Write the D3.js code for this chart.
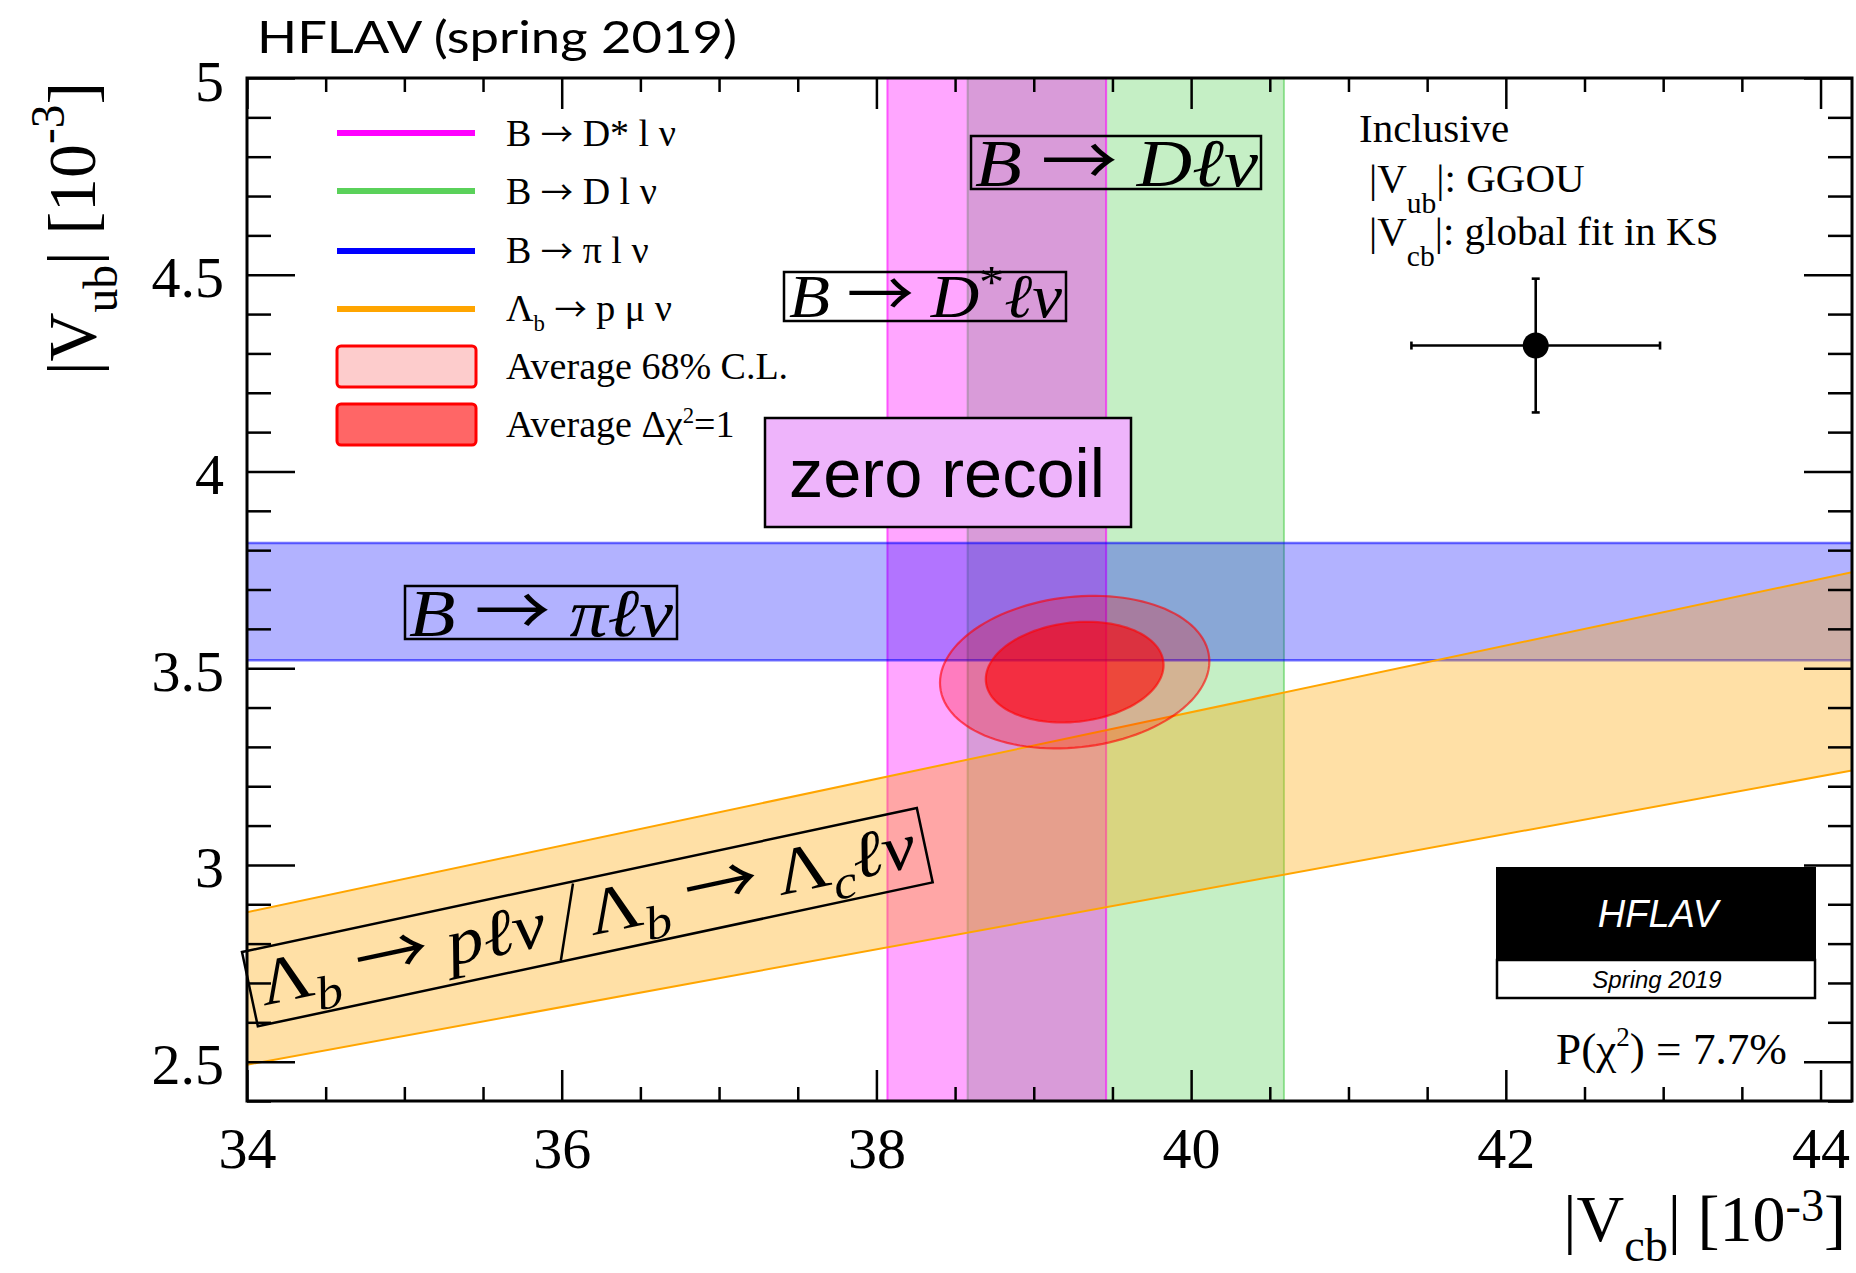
<!DOCTYPE html>
<html><head><meta charset="utf-8">
<script src="https://cdn.jsdelivr.net/npm/d3@7"></script>
<style>
body{margin:0;background:#fff}
svg{display:block}
text{white-space:pre}
</style>
</head><body>
<svg id="chart" width="1856" height="1273"></svg>
<script>
// ---------------- data ----------------
const xDomain = [34, 44.2];
const yDomain = [2.4, 5.0];
const xMajorTicks = [34, 36, 38, 40, 42, 44];
const xTickLabels = ["34", "36", "38", "40", "42", "44"];
const yMajorTicks = [2.5, 3, 3.5, 4, 4.5, 5];
const yTickLabels = ["2.5", "3", "3.5", "4", "4.5", "5"];

// exclusive |Vcb| bands (drawn in this order)
const vcbBandNames = ["B → D l ν", "B → D* l ν"];
const vcbBandLo = [38.58, 38.07];
const vcbBandHi = [40.59, 39.46];
const vcbBandColors = ["#5ad15a", "#ff00ff"];

// exclusive |Vub| band
const vubBandNames = ["B → π l ν"];
const vubBandLo = [3.52];
const vubBandHi = [3.818];
const vubBandColors = ["#0000ff"];

// |Vub|/|Vcb| ratio band from Lambda_b
const ratioBandNames = ["Λb → p μ ν"];
const ratioLo = [0.0733];
const ratioHi = [0.0847];
const ratioColors = ["#ffa500"];

// average fit: centre, sigmas, correlation; contour levels (68% CL, Δχ²=1)
const avgCenter = [39.26, 3.49];
const avgSigma = [0.565, 0.128];
const avgRho = [0.14];
const contourNames = ["Average 68% C.L.", "Average Δχ²=1"];
const contourK = [1.515, 1.0];

// inclusive point
const inclX = [42.19];
const inclXErr = [0.79];
const inclY = [4.32];
const inclYErrUp = [0.17];
const inclYErrDn = [0.17];

// ---------------- layout ----------------
const svg = d3.select("#chart");
const M = {left: 247, right: 1852, top: 78, bottom: 1101};
const x = d3.scaleLinear().domain(xDomain).range([M.left, M.right]);
const y = d3.scaleLinear().domain(yDomain).range([M.bottom, M.top]);
const SERIF = "'Liberation Serif','Times New Roman',serif";
const SANS = "'Liberation Sans',Arial,sans-serif";
const ARROW = "'Noto Sans CJK JP','DejaVu Sans',sans-serif";

svg.append("defs").append("clipPath").attr("id", "plotclip").append("rect")
  .attr("x", M.left).attr("y", M.top)
  .attr("width", M.right - M.left).attr("height", M.bottom - M.top);
const plot = svg.append("g").attr("clip-path", "url(#plotclip)");

// rich text helper
function rich(parent, parts, F, family) {
  const t = parent.append("text").attr("font-size", F).attr("font-family", family || SERIF).attr("fill", "#000");
  let shift = 0;
  parts.forEach(p => {
    const ts = t.append("tspan").text(p.t);
    const target = p.sub ? F * (p.drop || 0.25) : p.sup ? -F * (p.rise || 0.42) : 0;
    if (target - shift !== 0) ts.attr("dy", target - shift);
    shift = target;
    if (p.sub || p.sup) ts.attr("font-size", F * (p.scale || 0.7));
    if (p.arrow) ts.attr("font-family", ARROW).attr("font-size", F * (p.scale || 0.85));
    if (p.i) ts.attr("font-style", "italic");
  });
  return t;
}

// ---------------- vertical |Vcb| bands ----------------
const vcbBands = vcbBandNames.map((n, i) => ({name: n, lo: vcbBandLo[i], hi: vcbBandHi[i], color: vcbBandColors[i]}));
vcbBands.forEach(b => {
  plot.append("rect")
    .attr("x", x(b.lo)).attr("width", x(b.hi) - x(b.lo))
    .attr("y", y(yDomain[1])).attr("height", y(yDomain[0]) - y(yDomain[1]))
    .attr("fill", b.color).attr("fill-opacity", 0.35);
  [b.lo, b.hi].forEach(v => plot.append("line")
    .attr("x1", x(v)).attr("x2", x(v)).attr("y1", y(yDomain[0])).attr("y2", y(yDomain[1]))
    .attr("stroke", b.color).attr("stroke-opacity", 0.6).attr("stroke-width", 2));
});

// ---------------- horizontal |Vub| band ----------------
vubBandNames.forEach((n, i) => {
  plot.append("rect")
    .attr("x", x(xDomain[0])).attr("width", x(xDomain[1]) - x(xDomain[0]))
    .attr("y", y(vubBandHi[i])).attr("height", y(vubBandLo[i]) - y(vubBandHi[i]))
    .attr("fill", vubBandColors[i]).attr("fill-opacity", 0.3);
  [vubBandLo[i], vubBandHi[i]].forEach(v => plot.append("line")
    .attr("x1", x(xDomain[0])).attr("x2", x(xDomain[1])).attr("y1", y(v)).attr("y2", y(v))
    .attr("stroke", vubBandColors[i]).attr("stroke-opacity", 0.55).attr("stroke-width", 2.5));
});

// ---------------- ratio band (|Vub| = r |Vcb|) ----------------
ratioBandNames.forEach((n, i) => {
  const pts = [[xDomain[0], ratioHi[i] * xDomain[0]], [xDomain[1], ratioHi[i] * xDomain[1]],
               [xDomain[1], ratioLo[i] * xDomain[1]], [xDomain[0], ratioLo[i] * xDomain[0]]];
  plot.append("path")
    .attr("d", d3.line().x(d => x(d[0])).y(d => y(d[1])).curve(d3.curveLinearClosed)(pts))
    .attr("fill", ratioColors[i]).attr("fill-opacity", 0.35).attr("stroke", "none");
  [ratioLo[i], ratioHi[i]].forEach(r => plot.append("line")
    .attr("x1", x(xDomain[0])).attr("y1", y(r * xDomain[0]))
    .attr("x2", x(xDomain[1])).attr("y2", y(r * xDomain[1]))
    .attr("stroke", ratioColors[i]).attr("stroke-width", 2));
});

// ---------------- average contours ----------------
function contour(k) {
  const rho = avgRho[0];
  return d3.range(0, 360, 3).map(deg => {
    const t = deg * Math.PI / 180;
    return [avgCenter[0] + k * avgSigma[0] * Math.cos(t),
            avgCenter[1] + k * avgSigma[1] * (rho * Math.cos(t) + Math.sqrt(1 - rho * rho) * Math.sin(t))];
  });
}
const contourFill = [0.25, 0.6];
contourK.forEach((k, i) => {
  plot.append("path")
    .attr("d", d3.line().x(d => x(d[0])).y(d => y(d[1])).curve(d3.curveLinearClosed)(contour(k)))
    .attr("fill", "#ff0000").attr("fill-opacity", contourFill[i])
    .attr("stroke", "#ff0000").attr("stroke-opacity", 0.6).attr("stroke-width", 2.2);
});

// ---------------- legend ----------------
const leg = svg.append("g");
const AR = {t: "→", arrow: true, scale: 0.85};
const legLineItems = [
  {parts: [{t: "B "}, AR, {t: " D* l ν"}], color: "#ff00ff", yl: 133, yt: 146},
  {parts: [{t: "B "}, AR, {t: " D l ν"}], color: "#5ad15a", yl: 191, yt: 204},
  {parts: [{t: "B "}, AR, {t: " π l ν"}], color: "#0000ff", yl: 251, yt: 263},
  {parts: [{t: "Λ"}, {t: "b", sub: true, drop: 0.25, scale: 0.6}, {t: " "}, AR, {t: " p μ ν"}], color: "#ffa500", yl: 309, yt: 321}
];
legLineItems.forEach(it => {
  leg.append("line").attr("x1", 337).attr("x2", 475).attr("y1", it.yl).attr("y2", it.yl)
    .attr("stroke", it.color).attr("stroke-width", 6);
  rich(leg, it.parts, 38).attr("x", 506).attr("y", it.yt);
});
const legBoxItems = [
  {parts: [{t: contourNames[0]}], fill: "#fdcccc", y0: 346, yt: 379},
  {parts: [{t: "Average Δχ"}, {t: "2", sup: true, rise: 0.38, scale: 0.6}, {t: "=1"}], fill: "#ff6666", y0: 404, yt: 437}
];
legBoxItems.forEach(it => {
  leg.append("rect").attr("x", 337).attr("y", it.y0).attr("width", 139).attr("height", 41)
    .attr("rx", 4).attr("fill", it.fill).attr("stroke", "#ff0000").attr("stroke-width", 3);
  rich(leg, it.parts, 38).attr("x", 506).attr("y", it.yt);
});

// ---------------- inclusive point ----------------
const incl = svg.append("g");
const ix = x(inclX[0]), iy = y(inclY[0]);
const xl = x(inclX[0] - inclXErr[0]), xr = x(inclX[0] + inclXErr[0]);
const yt = y(inclY[0] + inclYErrUp[0]), yb = y(inclY[0] - inclYErrDn[0]);
[[xl, iy, xr, iy], [ix, yt, ix, yb], [xl, iy - 4, xl, iy + 4], [xr, iy - 4, xr, iy + 4],
 [ix - 4, yt, ix + 4, yt], [ix - 4, yb, ix + 4, yb]].forEach(s =>
  incl.append("line").attr("x1", s[0]).attr("y1", s[1]).attr("x2", s[2]).attr("y2", s[3])
    .attr("stroke", "#000").attr("stroke-width", 2.6));
incl.append("circle").attr("cx", ix).attr("cy", iy).attr("r", 13).attr("fill", "#000");

rich(incl, [{t: "Inclusive"}], 41).attr("x", 1359).attr("y", 142);
rich(incl, [{t: "|V"}, {t: "ub", sub: true, drop: 0.5, scale: 0.72}, {t: "|: GGOU"}], 41).attr("x", 1369).attr("y", 192);
rich(incl, [{t: "|V"}, {t: "cb", sub: true, drop: 0.5, scale: 0.72}, {t: "|: global fit in KS"}], 41).attr("x", 1369).attr("y", 245);

// ---------------- label boxes ----------------
const lab = svg.append("g");
function mathBox(g, bx, by, bw, bh, parts, F, tx, ty, tlen, fill) {
  g.append("rect").attr("x", bx).attr("y", by).attr("width", bw).attr("height", bh)
    .attr("fill", fill || "none").attr("stroke", "#000").attr("stroke-width", 2.5);
  const t = rich(g, parts, F).attr("x", tx).attr("y", ty);
  if (tlen) t.attr("textLength", tlen).attr("lengthAdjust", "spacingAndGlyphs");
  return t;
}
const MA = {t: "→", arrow: true, scale: 1.0};
mathBox(lab, 971, 136, 290, 53,
  [{t: "B", i: true}, {t: " "}, MA, {t: " "}, {t: "Dℓν", i: true}], 68, 975, 186, 283);
mathBox(lab, 784, 272, 282, 49,
  [{t: "B", i: true}, {t: " "}, MA, {t: " "}, {t: "D", i: true}, {t: "*", sup: true, rise: 0.3, scale: 0.75}, {t: "ℓν", i: true}], 62, 789, 317, 273);
mathBox(lab, 405, 586, 272, 53,
  [{t: "B", i: true}, {t: " "}, MA, {t: " "}, {t: "πℓν", i: true}], 68, 409, 636, 264);

// zero recoil
lab.append("rect").attr("x", 765).attr("y", 418).attr("width", 366).attr("height", 109)
  .attr("fill", "#eeb4fb").attr("stroke", "#000").attr("stroke-width", 2.5);
lab.append("text").attr("x", 789).attr("y", 497).attr("font-family", SANS).attr("font-size", 68)
  .attr("fill", "#000").attr("textLength", 316).attr("lengthAdjust", "spacingAndGlyphs").text("zero recoil");

// rotated Lambda label
const rot = lab.append("g").attr("transform", "translate(242,952) rotate(-12.04)");
mathBox(rot, 0, 0, 690, 76,
  [{t: "Λ"}, {t: "b", i: true, sub: true, drop: 0.25, scale: 0.72}, {t: " "}, MA, {t: " "}, {t: "pℓν", i: true}],
  66, 10, 57, 292);
rot.append("line").attr("x1", 338).attr("y1", 2).attr("x2", 310).attr("y2", 75)
  .attr("stroke", "#000").attr("stroke-width", 2.5);
rich(rot, [{t: "Λ"}, {t: "b", i: true, sub: true, drop: 0.25, scale: 0.72}, {t: " "}, MA, {t: " "},
   {t: "Λ"}, {t: "c", i: true, sub: true, drop: 0.25, scale: 0.72}, {t: "ℓν", i: true}], 66)
  .attr("x", 346).attr("y", 57).attr("textLength", 334).attr("lengthAdjust", "spacingAndGlyphs");

// ---------------- HFLAV logo ----------------
const logo = svg.append("g");
logo.append("rect").attr("x", 1496).attr("y", 867).attr("width", 320).attr("height", 93).attr("fill", "#000");
logo.append("rect").attr("x", 1497).attr("y", 960).attr("width", 318).attr("height", 38)
  .attr("fill", "#fff").attr("stroke", "#000").attr("stroke-width", 2.5);
logo.append("text").attr("x", 1658).attr("y", 927).attr("text-anchor", "middle")
  .attr("font-family", SANS).attr("font-style", "italic").attr("font-size", 38).attr("fill", "#fff").text("HFLAV");
logo.append("text").attr("x", 1657).attr("y", 988).attr("text-anchor", "middle")
  .attr("font-family", SANS).attr("font-style", "italic").attr("font-size", 24).attr("fill", "#000").text("Spring 2019");

// P(chi2)
rich(svg, [{t: "P(χ"}, {t: "2", sup: true, rise: 0.4, scale: 0.6}, {t: ") = 7.7%"}], 44)
  .attr("x", 1556).attr("y", 1064).attr("textLength", 231).attr("lengthAdjust", "spacingAndGlyphs");

// ---------------- axes ----------------
const axes = svg.append("g");
const xMinor = d3.range(68, 89).map(v => v / 2).filter(v => !xMajorTicks.includes(v));
const yMinor = d3.range(24, 51).map(v => v / 10).filter(v => !yMajorTicks.some(m => Math.abs(m - v) < 1e-9));
function styleAxis(g) {
  g.select(".domain").remove();
  g.selectAll(".tick line").attr("stroke", "#000").attr("stroke-width", 2.5);
  g.selectAll("text").attr("font-family", SERIF).attr("font-size", 58).attr("fill", "#000");
}
axes.append("g").attr("transform", `translate(0,${M.bottom})`)
  .call(d3.axisBottom(x).tickValues(xMajorTicks).tickSize(-31).tickPadding(26).tickFormat((d, i) => xTickLabels[i]))
  .call(styleAxis);
axes.append("g").attr("transform", `translate(0,${M.bottom})`)
  .call(d3.axisBottom(x).tickValues(xMinor).tickSize(-14).tickFormat("")).call(styleAxis);
axes.append("g").attr("transform", `translate(0,${M.top})`)
  .call(d3.axisTop(x).tickValues(xMajorTicks).tickSize(-31).tickFormat("")).call(styleAxis);
axes.append("g").attr("transform", `translate(0,${M.top})`)
  .call(d3.axisTop(x).tickValues(xMinor).tickSize(-14).tickFormat("")).call(styleAxis);
axes.append("g").attr("transform", `translate(${M.left},0)`)
  .call(d3.axisLeft(y).tickValues(yMajorTicks).tickSize(-48).tickPadding(23).tickFormat((d, i) => yTickLabels[i]))
  .call(styleAxis).call(g => g.selectAll("text").attr("dy", "0.38em"));
axes.append("g").attr("transform", `translate(${M.left},0)`)
  .call(d3.axisLeft(y).tickValues(yMinor).tickSize(-24).tickFormat("")).call(styleAxis);
axes.append("g").attr("transform", `translate(${M.right},0)`)
  .call(d3.axisRight(y).tickValues(yMajorTicks).tickSize(-48).tickFormat("")).call(styleAxis);
axes.append("g").attr("transform", `translate(${M.right},0)`)
  .call(d3.axisRight(y).tickValues(yMinor).tickSize(-24).tickFormat("")).call(styleAxis);

axes.append("rect").attr("x", M.left).attr("y", M.top)
  .attr("width", M.right - M.left).attr("height", M.bottom - M.top)
  .attr("fill", "none").attr("stroke", "#000").attr("stroke-width", 3);

// axis titles
rich(svg, [{t: "|V"}, {t: "cb", sub: true, drop: 0.3, scale: 0.7}, {t: "| [10"}, {t: "-3", sup: true, rise: 0.3, scale: 0.7}, {t: "]"}], 66)
  .attr("x", 1846).attr("y", 1241).attr("text-anchor", "end");
rich(svg.append("g").attr("transform", "translate(95,82) rotate(-90)"),
  [{t: "|V"}, {t: "ub", sub: true, drop: 0.32, scale: 0.7}, {t: "| [10"}, {t: "-3", sup: true, rise: 0.45, scale: 0.7}, {t: "]"}], 68)
  .attr("x", 0).attr("y", 0).attr("text-anchor", "end")
  .attr("textLength", 293).attr("lengthAdjust", "spacingAndGlyphs");

// title
svg.append("text").attr("x", 257).attr("y", 53).attr("font-family", "Lato, 'Open Sans', sans-serif")
  .attr("font-size", 44).attr("fill", "#000").attr("textLength", 480).attr("lengthAdjust", "spacingAndGlyphs")
  .text("HFLAV (spring 2019)");
</script>
</body></html>
